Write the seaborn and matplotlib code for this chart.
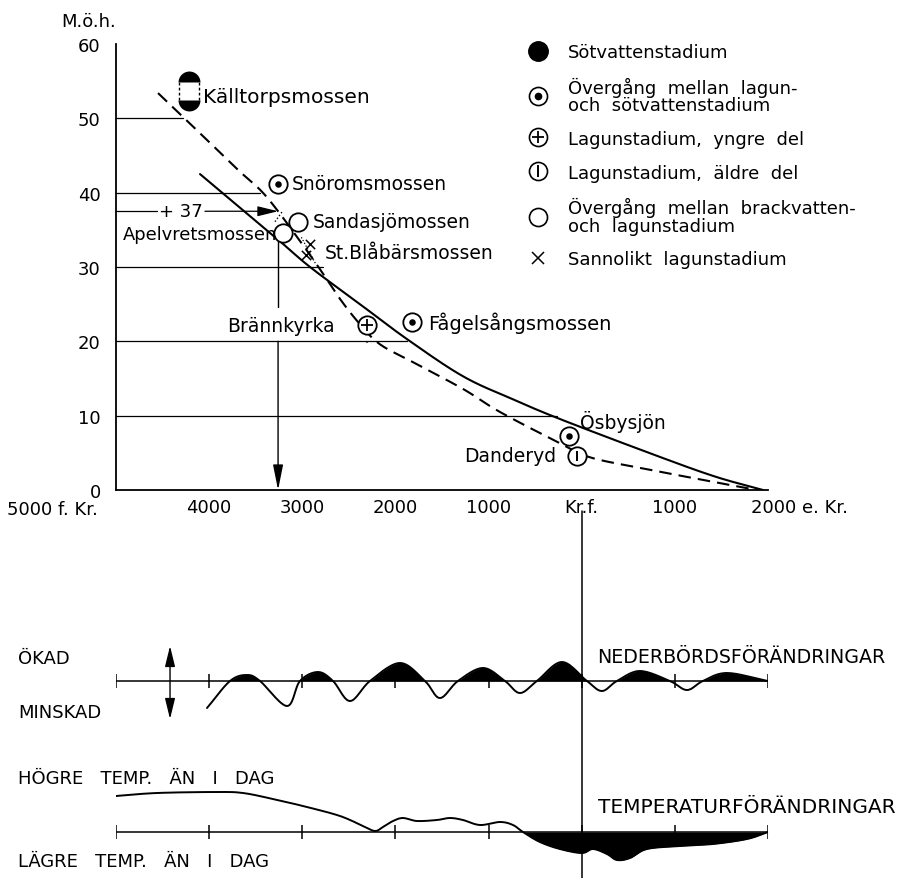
import numpy as np
import pandas as pd
import matplotlib
matplotlib.use("Agg")
import matplotlib.pyplot as plt
from matplotlib.lines import Line2D
from matplotlib.patches import Arc
import seaborn as sns

# ------------------------------------------------------------------ data
# time axis: years, negative = f.Kr., positive = e.Kr.
x_ticks = [-5000, -4000, -3000, -2000, -1000, 0, 1000, 2000]
x_tick_labels = ["5000 f. Kr.", "4000", "3000", "2000", "1000", "Kr.f.", "1000", "2000 e. Kr."]
y_ticks = [0, 10, 20, 30, 40, 50, 60]

# shoreline displacement curves (m ö.h.)
dashed_years = [-4549, -4281, -3701, -3454, -3272, -3025, -2810, -2595, -2381, -2166,
                -1812, -1275, -878, -266, 88, 700, 1409, 1881]
dashed_elev = [53.4, 50.2, 43.2, 40.4, 37.7, 33.5, 29.7, 25.7, 22.3, 19.6,
               17.2, 13.6, 10.5, 6.5, 4.4, 2.8, 1.1, 0.0]
solid_years = [-4098, -3272, -2917, -2381, -1876, -1275, -738, -234, 700, 1409, 1946]
solid_elev = [42.5, 33.8, 30.0, 25.0, 20.3, 15.3, 12.2, 9.55, 5.1, 1.9, 0.0]

# horizontal reference lines (level, year where the line ends)
ref_levels = [50, 40, 30, 20, 10]
ref_ends = [-4285, -3454, -2778, -1876, -270]

# sites
site_names = ["Snöromsmossen", "Sandasjömossen", "Apelvretsmossen", "Brännkyrka",
              "Fågelsångsmossen", "Ösbysjön", "Danderyd"]
site_years = [-3261, -3046, -3207, -2305, -1822, -137, -51]
site_elev = [41.2, 36.1, 34.6, 22.2, 22.6, 7.3, 4.6]
site_stage = ["lagun-söt", "brack-lagun", "brack-lagun", "lagun yngre",
              "lagun-söt", "lagun-söt", "lagun äldre"]

kall_name = "Källtorpsmossen"
kall_year = -4216
kall_top = 54.9
kall_bottom = 52.5

blab_name = "St.Blåbärsmossen"
blab_years = [-2917, -2960]
blab_elev = [33.1, 31.6]

plus37_level = 37.5
plus37_year = -3260

legend_labels = ["Sötvattenstadium",
                 "Övergång  mellan  lagun-\noch  sötvattenstadium",
                 "Lagunstadium,  yngre  del",
                 "Lagunstadium,  äldre  del",
                 "Övergång  mellan  brackvatten-\noch  lagunstadium",
                 "Sannolikt  lagunstadium"]

# precipitation changes (relative, + = ökad)
prec_years = [-4023, -3776, -3594, -3454, -3164, -3025, -2832, -2670, -2488, -2273,
              -1951, -1683, -1522, -1329, -1060, -824, -663, -481, -212, 56,
              217, 378, 625, 947, 1130, 1301, 1559, 2000]
prec_vals = [-27, 0, 6, 0, -25, 0, 9, 0, -20, 0,
             18, 0, -17, 0, 13, 0, -12, 0, 19, 0,
             -10, 0, 10, 0, -9, 0, 8, 0]

# temperature changes (relative to today)
temp_years = [-5000, -4560, -3916, -3637, -3315, -2950, -2595, -2348, -2220, -2134,
              -2026, -1919, -1769, -1554, -1414, -1275, -1092, -877, -738, -631,
              -449, -234, 0, 121, 271, 378, 518, 700, 1055, 1409, 1774, 2000]
temp_vals = [36, 39, 40, 39, 33, 25, 16, 6, 1, 5,
             11, 14, 11, 12, 14, 12, 7, 10, 7, 0,
             -10, -17, -21, -17, -22, -28, -26, -17, -14, -12, -7, 0]


# ------------------------------------------------------------------ helpers
def smooth(xs, ys, n=14):
    P = np.column_stack([xs, ys]).astype(float)
    P = np.vstack([2 * P[0] - P[1], P, 2 * P[-1] - P[-2]])
    out = []
    t = np.linspace(0, 1, n, endpoint=False)[:, None]
    for i in range(1, len(P) - 2):
        p0, p1, p2, p3 = P[i - 1], P[i], P[i + 1], P[i + 2]
        seg = 0.5 * ((2 * p1) + (-p0 + p2) * t + (2 * p0 - 5 * p1 + 4 * p2 - p3) * t ** 2
                     + (-p0 + 3 * p1 - 3 * p2 + p3) * t ** 3)
        out.append(seg)
    out.append(P[-2][None, :])
    S = np.vstack(out)
    return S[:, 0], S[:, 1]


# ------------------------------------------------------------------ figure
sns.set_theme(style="white")
plt.rcParams["font.family"] = ["DejaVu Sans"]
plt.rcParams["text.color"] = "black"

W, H = 901, 879
fig = plt.figure(figsize=(W / 100, H / 100), dpi=100)
fig.patch.set_facecolor("white")

ax = fig.add_axes([116 / W, (H - 491) / H, 652 / W, 446 / H])
ax.set_facecolor("none")
ax.set_xlim(-5000, 2000)
ax.set_ylim(0, 60)

LW_AX = 1.3
for s in ["top", "right"]:
    ax.spines[s].set_visible(False)
for s in ["left", "bottom"]:
    ax.spines[s].set_color("black")
    ax.spines[s].set_linewidth(LW_AX)

ax.set_xticks(x_ticks)
ax.set_xticklabels(["" if i in (0, len(x_ticks) - 1) else l for i, l in enumerate(x_tick_labels)])
ax.set_yticks(y_ticks)
ax.set_yticklabels([str(v) for v in y_ticks])
ax.tick_params(axis="x", direction="in", length=7, width=1.1, pad=6, labelsize=13, colors="black")
ax.tick_params(axis="y", direction="in", length=6.5, width=1.1, pad=11, labelsize=13, colors="black")
ax.annotate(x_tick_labels[0], xy=(x_ticks[0], 0), xytext=(-13, -7.5), textcoords="offset points",
            ha="right", va="top", fontsize=13)
ax.annotate(x_tick_labels[-1], xy=(x_ticks[-1], 0), xytext=(-12, -6), textcoords="offset points",
            ha="left", va="top", fontsize=13)
ax.annotate("M.ö.h.", xy=(0, 1), xycoords="axes fraction", xytext=(-20, 16.5),
            textcoords="offset points", ha="center", va="center", fontsize=13)

# reference lines
for lvl, end in zip(ref_levels, ref_ends):
    ax.plot([-5000, end], [lvl, lvl], color="black", lw=0.9, zorder=1)

# curves
dx, dy = smooth(dashed_years, dashed_elev)
sns.lineplot(x=dx, y=dy, ax=ax, color="black", linewidth=1.5, sort=False, estimator=None)
ax.lines[-1].set_dashes([6, 3.4])
sx, sy = smooth(solid_years, solid_elev)
sns.lineplot(x=sx, y=sy, ax=ax, color="black", linewidth=1.5, sort=False, estimator=None)

# +37 arrow and vertical arrow
ax.plot([-5000, -4560], [plus37_level] * 2, color="black", lw=0.9)
ax.text(-4302, plus37_level, "+ 37", ha="center", va="center", fontsize=13)
ax.annotate("", xy=(plus37_year, plus37_level), xytext=(-4045, plus37_level),
            arrowprops=dict(arrowstyle="-|>,head_length=0.9,head_width=0.22", color="black",
                            lw=0.9, shrinkA=0, shrinkB=0, mutation_scale=14))
ax.plot([plus37_year] * 2, [33.5, 24.6], color="black", lw=1.0)
ax.annotate("", xy=(plus37_year, 0), xytext=(plus37_year, 20),
            arrowprops=dict(arrowstyle="-|>,head_length=1.1,head_width=0.22", color="black",
                            lw=1.0, shrinkA=0, shrinkB=0, mutation_scale=14))
ax.plot([-3293, -3218], [36.1, 37.4], color="black", lw=1.0, ls=(0, (1, 1.5)))

# sites
sites = pd.DataFrame({"name": site_names, "year": site_years, "elev": site_elev,
                      "stage": site_stage})
sns.scatterplot(data=sites, x="year", y="elev", marker="o", s=175, color="white",
                edgecolor="black", linewidth=1.3, ax=ax, zorder=5)
dots = sites[sites.stage == "lagun-söt"]
sns.scatterplot(data=dots, x="year", y="elev", marker="o", s=22, color="black",
                linewidth=0, ax=ax, zorder=6)
plus = sites[sites.stage == "lagun yngre"]
ax.scatter(plus.year, plus.elev, marker="+", s=75, color="black", linewidths=1.3, zorder=6)
bar = sites[sites.stage == "lagun äldre"]
ax.scatter(bar.year, bar.elev, marker="|", s=60, color="black", linewidths=1.4, zorder=6)

# Brännkyrka dashed circle
ax.add_patch(Arc((site_years[3], 21.1), width=193, height=2.42, theta1=190, theta2=350,
                 color="black", lw=1.1, ls=(0, (2, 1.5)), zorder=7))

# Källtorpsmossen capsule
ax.plot([kall_year], [kall_top], marker="o", markersize=15.8, fillstyle="top",
        markerfacecolor="black", markerfacecoloralt="none", markeredgewidth=0, ls="", zorder=5)
ax.plot([kall_year], [kall_bottom], marker="o", markersize=15.8, fillstyle="bottom",
        markerfacecolor="black", markerfacecoloralt="none", markeredgewidth=0, ls="", zorder=5)
for side in (-110, 110):
    ax.plot([kall_year + side] * 2, [kall_bottom, kall_top], color="black", lw=1.0,
            ls=(0, (2, 1.6)), zorder=5)

# St. Blåbärsmossen
ax.scatter(blab_years, blab_elev, marker="x", s=45, color="black", linewidths=1.1, zorder=6)
ax.plot([-3010, -2860], [34.0, 30.5], color="black", lw=0.9, ls=(0, (1, 1.5)))

# labels
fs = 13.5
ax.text(-4066, 53.0, kall_name, ha="left", va="center", fontsize=14.5)
ax.text(-3110, 41.2, site_names[0], ha="left", va="center", fontsize=fs)
ax.text(-2885, 36.1, site_names[1], ha="left", va="center", fontsize=fs)
ax.text(-3268, 34.5, site_names[2], ha="right", va="center", fontsize=12.9)
ax.text(-2755, 32.0, blab_name, ha="left", va="center", fontsize=fs)
ax.text(-2650, 22.1, site_names[3], ha="right", va="center", fontsize=fs)
ax.text(-1650, 22.6, site_names[4], ha="left", va="center", fontsize=14)
ax.text(-19, 9.3, site_names[5], ha="left", va="center", fontsize=fs)
ax.text(-277, 4.6, site_names[6], ha="right", va="center", fontsize=fs)

ax.set_xlabel("")
ax.set_ylabel("")

# legend
circ = dict(marker="o", markersize=13, markerfacecolor="white", markeredgecolor="black",
            markeredgewidth=1.2, linestyle="")
h_fill = Line2D([], [], marker="o", markersize=14, color="black", linestyle="")
h_dot = (Line2D([], [], **circ), Line2D([], [], marker="o", markersize=4.5, color="black", ls=""))
h_plus = (Line2D([], [], **circ), Line2D([], [], marker="+", markersize=9, markeredgewidth=1.3,
                                         color="black", ls=""))
h_bar = (Line2D([], [], **circ), Line2D([], [], marker="|", markersize=8, markeredgewidth=1.4,
                                        color="black", ls=""))
h_open = Line2D([], [], **circ)
h_x = Line2D([], [], marker="x", markersize=9, markeredgewidth=1.1, color="black", ls="")
leg = ax.legend([h_fill, h_dot, h_plus, h_bar, h_open, h_x], legend_labels,
                loc="upper left", bbox_to_anchor=(527 / W, 1 - 44 / H),
                bbox_transform=fig.transFigure, frameon=False, fontsize=13,
                handlelength=1.2, handletextpad=1.05, borderpad=0,
                borderaxespad=0, labelspacing=0.87)
for t in leg.get_texts():
    t.set_linespacing(0.95)

# ------------------------------------------------------------------ lower panel
axb = fig.add_axes([116 / W, 0, 652 / W, 379 / H])
axb.set_xlim(-5000, 2000)
axb.set_ylim(-197, 182)
axb.axis("off")
temp_base = -151

# precipitation
axb.plot([-5000, 2000], [0, 0], color="black", lw=1.1)
axb.vlines(x_ticks, -7, 7, color="black", lw=1.1)
px, py = smooth(prec_years, prec_vals, n=16)
sns.lineplot(x=px, y=py, ax=axb, color="black", linewidth=1.4, sort=False, estimator=None)
axb.fill_between(px, 0, np.clip(py, 0, None), color="black", lw=0)

# temperature
axb.plot([-5000, 2000], [temp_base, temp_base], color="black", lw=1.1)
axb.vlines(x_ticks, temp_base - 7, temp_base + 7, color="black", lw=1.1)
tx, ty = smooth(temp_years, temp_vals, n=16)
sns.lineplot(x=tx, y=ty + temp_base, ax=axb, color="black", linewidth=1.4, sort=False,
             estimator=None)
axb.fill_between(tx, temp_base, temp_base + np.clip(ty, None, 0), color="black", lw=0)

# Kr.f. vertical line
axb.axvline(0, ymin=0, ymax=(170 + 197) / 379, color="black", lw=1.1)

# double arrow
axb.annotate("", xy=(-4420, 35), xytext=(-4420, -38),
             arrowprops=dict(arrowstyle="<|-|>,head_length=0.9,head_width=0.22",
                             color="black", lw=1.0, shrinkA=0, shrinkB=0, mutation_scale=14))

bfs = 13
axb.text(-6052, 23, "ÖKAD", ha="left", va="center", fontsize=bfs)
axb.text(-6052, -31, "MINSKAD", ha="left", va="center", fontsize=bfs)
axb.text(-6052, -97, "HÖGRE   TEMP.   ÄN   I   DAG", ha="left", va="center", fontsize=bfs)
axb.text(-6052, -180, "LÄGRE   TEMP.   ÄN   I   DAG", ha="left", va="center", fontsize=bfs)
axb.text(163, 24, "NEDERBÖRDSFÖRÄNDRINGAR", ha="left", va="center", fontsize=13.7)
axb.text(174, -126, "TEMPERATURFÖRÄNDRINGAR", ha="left", va="center", fontsize=14.5)
axb.set_xlabel("")
axb.set_ylabel("")

fig.savefig("out.png", dpi=100, facecolor="white")
